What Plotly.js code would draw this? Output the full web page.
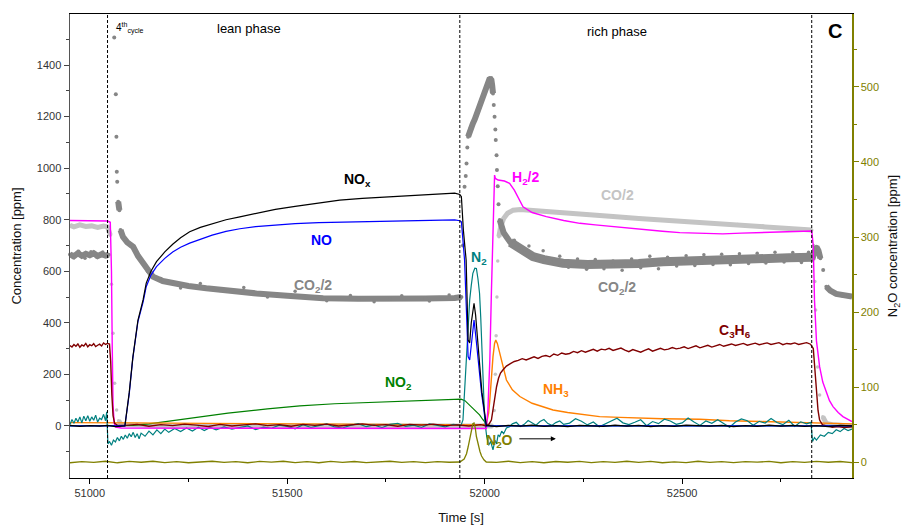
<!DOCTYPE html>
<html>
<head>
<meta charset="utf-8">
<script src="https://cdn.plot.ly/plotly-3.0.1.min.js"></script>
<style>html,body{margin:0;padding:0;background:#fff;}#chart{width:906px;height:529px;}</style>
</head>
<body>
<div id="chart"></div>
<script>
// ---------------- DATA ----------------
const phaseBoundaries = [51045, 51937, 52828];
const xTicks = [51000, 51500, 52000, 52500];
const yTicks = [0, 200, 400, 600, 800, 1000, 1200, 1400];
const y2Ticks = [0, 100, 200, 300, 400, 500];

// NOx (black)
const noxT = [50950,50975,51000,51025,51045,51065,51089,51100,51109,51122,51135,51143,51155,51169,51190,51210,51230,51253,51280,51310,51345,51380,51420,51470,51520,51580,51633,51690,51750,51810,51870,51924,51937,51941,51946,51953,51958,51962,51966,51970,51973,51977,51982,51987,51993,52000,52004,52030,52060,52090,52120,52150,52180,52210,52240,52270,52300,52330,52360,52390,52420,52450,52480,52510,52540,52570,52600,52630,52660,52690,52720,52750,52780,52810,52840,52870,52900,52930];
const noxV = [2,-2,1,-1,2,-3,0,130,265,410,489,554,600,637,675,705,730,753,770,785,800,811,825,840,852,865,876,883,888,893,898,903,898,889,760,644,333,322,400,455,476,430,330,230,130,50,2,-3,2,-1,3,-2,1,-3,2,0,-2,3,-1,2,-3,1,-2,3,0,-1,2,-3,1,-2,3,-1,2,-2,1,-3,2,0];

// NO (blue)
const noT = [50950,51000,51045,51089,51100,51109,51122,51135,51143,51155,51169,51190,51210,51230,51253,51280,51310,51345,51380,51420,51470,51520,51580,51633,51690,51750,51810,51870,51924,51937,51941,51949,51958,51962,51967,51973,51978,51983,51992,52000,52004,52100,52300,52500,52700,52930];
const noV = [0,0,0,0,125,262,405,480,540,585,618,650,675,693,709,725,740,755,765,773,780,785,789,791,793,795,797,798,799,796,792,644,269,256,330,411,340,256,127,40,0,0,0,0,0,0];

// N2 (teal)
const n2T = [50950,50955,50960,50965,50970,50975,50980,50985,50990,50995,51000,51005,51010,51015,51020,51025,51030,51035,51040,51043,
51046,51050,51055,51060,51065,51070,51075,51080,51085,51090,51095,51100,51105,51110,51115,51120,51125,51130,
51140,51150,51160,51170,51180,51190,51200,51215,51230,51245,51260,51275,51290,51305,51320,
51340,51360,51380,51400,51420,51440,51460,51480,51500,51520,51540,51560,51580,51600,51620,51640,51660,51680,51700,51720,51740,51760,51780,51800,51820,51840,51860,51880,51900,51920,51940,
51945,51950,51954,51958,51962,51966,51970,51975,51979,51983,51987,51990,51994,51997,52000,52005,52010,52015,52021,52026,52030,52034,52038,52043,52048,52055,52063,
52070,52080,52090,52100,52110,52120,52130,52140,52150,52160,52170,52180,52190,52200,
52215,52230,52245,52260,52275,52290,52305,52320,52335,52350,52365,52380,52395,52410,52425,52440,52455,52470,52485,52500,52515,52530,52545,52560,52575,52590,52605,52620,52635,52650,52665,52680,52695,52710,52725,52740,52755,52770,52785,52800,52815,52826,
52830,52835,52840,52850,52860,52870,52880,52890,52900,52910,52920,52930];
const n2V = [5,25,10,30,15,35,12,38,20,40,18,35,22,42,15,30,25,45,20,55,
-70,-60,-75,-55,-62,-45,-58,-40,-52,-35,-48,-30,-42,-25,-45,-30,-50,-28,
-40,-20,-35,-15,-30,-12,-25,-10,-22,-8,-20,-5,-18,-6,-15,
-4,-12,-7,0,-14,-5,-9,3,-2,-11,5,-6,1,8,-4,-8,2,9,-3,4,-7,6,10,-2,3,-6,8,1,-4,6,2,
23,160,307,400,489,545,592,612,611,570,514,420,256,130,23,-40,-75,-60,-93,-55,-70,-35,-41,-20,-30,-8,-3,
8,14,-2,6,21,12,3,17,25,9,2,13,19,6,
11,28,18,4,15,-3,9,20,30,12,5,14,24,1,17,9,26,19,6,12,31,15,2,19,10,24,8,-5,15,27,20,3,18,11,29,13,5,22,-2,16,8,14,
-60,-45,-55,-35,-40,-25,-30,-15,-22,-10,-18,-12];

// N2O (olive, right axis)
const n2oT = [50950,50980,51010,51040,51070,51100,51130,51160,51190,51220,51250,51280,51310,51340,51370,51400,51430,51460,51490,51520,51550,51580,51610,51640,51670,51700,51730,51760,51790,51820,51850,51880,51910,51937,
51948,51954,51958,51962,51966,51970,51973,51976,51979,51984,51988,51992,51998,52004,
52030,52060,52090,52120,52150,52180,52210,52240,52270,52300,52330,52360,52390,52420,52450,52480,52510,52540,52570,52600,52630,52660,52690,52720,52750,52780,52810,52840,52870,52900,52930];
const n2oV = [-1,0.5,-0.5,1,-1,0.8,-0.3,1,-0.8,0.5,-1,0.3,1,-0.5,0.6,-1,0.8,-0.2,1,-0.7,0.4,-1,0.9,-0.4,0.7,-0.9,0.3,1,-0.6,0.5,-0.8,0.6,-0.3,0,
4,11,20,29,42,51,52,46,34,22,14,8,3,0,
-0.5,1,-0.8,0.4,-1,0.7,-0.3,0.9,-0.9,0.5,-0.6,1,-0.4,0.8,-1,0.3,-0.7,1,-0.5,0.6,-0.9,0.4,-0.2,0.8,-1,0.5,-0.6,0.9,-0.3,0.7,-0.8];

// NO2 (green)
const no2T = [50950,51045,51110,51150,51200,51278,51350,51450,51532,51620,51734,51830,51924,51940,51950,51962,51975,51987,51995,52004,52015,52300,52600,52930];
const no2V = [0,0,2,8,18,36,50,66,78,86,93,100,104,104,98,81,62,43,25,8,0,0,0,0];

// NH3 (orange)
const nh3T = [50950,51045,51100,51300,51500,51700,51937,51990,52004,52010,52013,52017,52021,52025,52028,52032,52038,52046,52055,52070,52089,52120,52173,52210,52257,52291,52342,52400,52450,52544,52620,52700,52797,52828,52860,52930];
const nh3V = [13,13,12,10,8,6,5,4,8,50,101,190,269,320,333,320,282,225,178,140,114,88,62,52,43,36,33,30,28,26,20,17,13,12,10,8];

// H2/2 (magenta)
const h2T = [50950,51000,51045,51052,51055,51057,51059,51062,51066,51080,51300,51600,51900,52004,52008,52013,52017,52021,52024,52025,52027,52034,52050,52063,52075,52089,52097,52120,52156,52200,52241,52280,52325,52370,52409,52450,52494,52550,52603,52650,52705,52760,52828,52832,52835,52840,52848,52856,52865,52873,52882,52895,52907,52920,52930];
const h2V = [797,796,795,790,600,300,80,10,-5,-8,-9,-10,-10,-10,60,256,520,773,940,973,960,954,950,941,915,876,850,828,812,797,786,780,773,766,760,755,750,747,745,748,751,754,756,700,489,330,230,170,127,98,75,52,36,24,17];

// CO/2 (light gray)
const coT = [50950,50960,50975,50990,51005,51020,51035,51045,51052,51055,51059,51063,51068,51073,51080,51200,51500,51800,52004,52020,52024,52027,52029,52031,52033,52036,52040,52048,52058,52072,52090,52114,52150,52198,52260,52325,52390,52451,52510,52578,52640,52705,52770,52828,52833,52836,52838,52843,52848,52856,52865,52880,52930];
const coV = [778,772,780,774,776,770,775,772,740,550,360,166,62,20,5,0,0,0,0,0,60,200,350,500,640,734,770,805,825,837,840,837,832,825,818,812,805,799,792,786,781,776,768,760,700,560,450,229,120,36,10,5,0];

// CO2/2 (dark gray)
const co2T = [50950,50960,50970,50980,50990,51000,51010,51020,51030,51040,51048,
51057,51062,51066,51067.5,51068.5,51069.5,51072,51075,51078,51084,51095,51110,51122,51135,51147,51160,51185,51211,51250,51295,51350,51422,51500,51591,51680,51760,51850,51924,51937,
51941,51945,51949,51952,51954,51956,51958,51961,51964,51967,51970,51975,51980,51987,51993,51998,52004,52008,52011,52013,52015,52017,52019,52021,52023,52025,52027,52028,52030,52031,52033,52035,52038,52042,52048,52055,52065,52080,52100,52122,52150,52198,52260,52325,52390,52451,52510,52578,52640,52705,52770,52831,
52836,52840,52845,52850,52857,52865,52875,52890,52905,52920,52930];
const co2V = [665,658,670,660,668,662,670,659,666,661,664,
1640,1507,1287,1122,986,947,870,837,760,734,712,695,660,631,600,579,562,553,543,534,524,514,505,495,493,492,494,496,495,
500,700,928,970,1018,1080,1122,1140,1155,1165,1173,1190,1212,1238,1265,1290,1316,1333,1345,1350,1346,1342,1320,1290,1245,1199,1150,1109,1050,993,930,860,799,770,750,734,712,695,675,657,645,631,626,624,630,637,641,644,647,650,652,654,
680,695,680,650,605,540,525,512,506,503,502];
// scattered CO2/2 dots around the band
const co2ScatT = [50958,50972,50988,51003,51017,51033,51180,51230,51280,51330,51390,51450,51520,51600,51660,51720,51790,51860,51910,
52075,52095,52112,52130,52148,52170,52190,52212,52235,52258,52280,52302,52325,52348,52372,52395,52418,52440,52463,52486,52510,52532,52555,52578,52600,52622,52645,52668,52690,52712,52735,52758,52780,52802,52820];
const co2ScatV = [652,678,650,676,655,675,572,535,553,525,537,500,522,486,506,482,505,485,508,
720,680,698,646,680,634,658,616,648,608,646,610,640,604,648,614,658,610,654,620,660,622,664,626,666,625,668,630,670,632,674,636,673,634,674];

// C3H6 (maroon)
const c3h6T = [50950,50955,50960,50965,50970,50975,50980,50985,50990,50995,51000,51005,51010,51015,51020,51025,51030,51035,51040,51045,
51050,51053,51056,51059,51063,51070,
51090,51120,51150,51180,51210,51240,51270,51300,51330,51360,51390,51420,51450,51480,51510,51540,51570,51600,51630,51660,51690,51720,51750,51780,51810,51840,51870,51900,51930,51960,51990,
52004,52010,52017,52022,52026,52030,52035,52040,52046,52055,52065,52075,
52085,52095,52105,52115,52125,52135,52145,52155,52165,52175,52185,52195,52205,52215,52225,52235,52245,52255,52265,52275,
52285,52295,52305,52315,52325,52335,52345,52355,52365,52375,52385,52395,52405,52415,52425,52435,52445,52455,52465,52475,
52485,52495,52505,52515,52525,52535,52545,52555,52565,52575,52585,52595,52605,52615,52625,52635,52645,52655,52665,52675,
52685,52695,52705,52715,52725,52735,52745,52755,52765,52775,52785,52795,52805,52815,52825,
52832,52836,52840,52844,52848,52855,52865,52880,52895,52910,52930];
const c3h6V = [312,306,316,309,318,305,314,310,320,307,315,311,319,308,313,317,310,322,316,320,
318,250,120,40,10,3,
2,6,-1,5,1,7,3,-2,6,0,4,8,1,5,-1,6,2,7,0,4,8,2,5,-1,6,3,7,1,4,0,5,
0,5,23,70,120,152,185,205,217,232,242,250,
254,261,256,263,268,262,270,273,268,279,274,283,278,281,289,284,292,286,291,297,
290,298,295,301,293,297,302,294,288,296,291,286,293,299,290,296,301,295,298,304,
299,302,307,300,306,311,303,309,313,306,312,316,309,314,318,312,317,320,313,316,
321,315,318,322,316,319,323,315,320,318,322,316,319,323,317,
300,220,127,60,23,5,0,-5,-2,-6,-3];

// ---------------- helpers ----------------
function withGaps(t, v, thr) {
  const X = [], Y = [];
  for (let i = 0; i < t.length; i++) {
    if (i > 0 && Math.abs(v[i] - v[i - 1]) > thr) { X.push(t[i]); Y.push(null); }
    X.push(t[i]); Y.push(v[i]);
  }
  return {x: X, y: Y};
}
function inWindow(t, v, a, b) {
  const X = [], Y = [];
  for (let i = 0; i < t.length; i++) if (t[i] >= a && t[i] <= b) { X.push(t[i]); Y.push(v[i]); }
  return {x: X, y: Y};
}
const FONT = 'Liberation Sans, Arial, Helvetica, sans-serif';
function line(x, y, color, width, yaxis) {
  return {type: 'scatter', mode: 'lines', x: x, y: y, yaxis: yaxis || 'y',
          line: {color: color, width: width}, connectgaps: false, hoverinfo: 'skip'};
}
function dots(x, y, color, size, clip) {
  return {type: 'scatter', mode: 'markers', x: x, y: y,
          marker: {color: color, size: size, line: {width: 0}}, cliponaxis: clip, hoverinfo: 'skip'};
}

const coG = withGaps(coT, coV, 38);
const co2G = withGaps(co2T, co2V, 38);
const co2Rich = inWindow(co2T, co2V, 52060, phaseBoundaries[2] + 3);
const GRAY = '#868686', LGRAY = '#C4C4C4';

const traces = [
  line(coG.x, coG.y, LGRAY, 5),
  dots(coT, coV, LGRAY, 3.5, true),
  line(co2G.x, co2G.y, GRAY, 6),
  line(co2Rich.x, co2Rich.y, GRAY, 9),
  dots(co2T, co2V, GRAY, 4, false),
  dots(co2ScatT, co2ScatV, GRAY, 3.5, true),
  line(n2oT, n2oV, '#808000', 1.3, 'y2'),
  line(no2T, no2V, '#008000', 1.2),
  line(nh3T, nh3V, '#FF8000', 1.4),
  line(n2T, n2V, '#008080', 1.2),
  line(h2T, h2V, '#FF00FF', 1.4),
  line(c3h6T, c3h6V, '#800000', 1.4),
  line(noT, noV, '#0000FF', 1.2),
  line(noxT, noxV, '#000000', 1.2)
];

function lab(x, y, text, color, size) {
  return {x: x, y: y, xref: 'x', yref: 'y', text: text, showarrow: false,
          font: {family: FONT, size: size || 14, color: color},
          xanchor: 'center', yanchor: 'middle'};
}
function ptxt(x, y, text, size, anchor) {
  return {x: x, y: y, xref: 'paper', yref: 'paper', xanchor: anchor || 'center', yanchor: 'middle',
          showarrow: false, text: text, font: {family: FONT, size: size, color: '#000'}};
}
const annotations = [
  lab(51678, 954, '<b>NO<sub>x</sub></b>', '#000000'),
  lab(51587, 721, '<b>NO</b>', '#0000FF'),
  lab(51565, 543, '<b>CO<sub>2</sub>/2</b>', GRAY),
  lab(51985, 651, '<b>N<sub>2</sub></b>', '#008080'),
  lab(52104, 962, '<b>H<sub>2</sub>/2</b>', '#FF00FF'),
  lab(52337, 896, '<b>CO/2</b>', LGRAY),
  lab(52334, 535, '<b>CO<sub>2</sub>/2</b>', GRAY),
  lab(52635, 368, '<b>C<sub>3</sub>H<sub>6</sub></b>', '#800000'),
  lab(51782, 167, '<b>NO<sub>2</sub></b>', '#008000'),
  lab(52180, 140, '<b>NH<sub>3</sub></b>', '#FF8000'),
  lab(52038, -58, '<b>N<sub>2</sub>O</b>', '#808000'),
  {x: 52180, y: -50, ax: 52084, ay: -50, xref: 'x', yref: 'y', axref: 'x', ayref: 'y',
   text: '', showarrow: true, arrowhead: 2, arrowsize: 1, arrowwidth: 1, arrowcolor: '#000'},
  ptxt(0.0563, 0.970, '4<sup>th</sup><sub>cycle</sub>', 10, 'left'),
  ptxt(0.229, 0.968, 'lean phase', 13),
  ptxt(0.6995, 0.963, 'rich phase', 13),
  ptxt(0.978, 0.963, '<b>C</b>', 20)
];

const shapes = phaseBoundaries.map(t => ({type: 'line', xref: 'x', yref: 'paper', x0: t, x1: t, y0: 0, y1: 1,
  line: {color: '#000', width: 1, dash: '3px,2px'}}));

const tickFont = {family: FONT, size: 11, color: '#333'};
const layout = {
  width: 906, height: 529,
  margin: {l: 70, r: 54, t: 14, b: 51, pad: 0},
  paper_bgcolor: '#fff', plot_bgcolor: '#fff',
  showlegend: false, hovermode: false,
  font: {family: FONT},
  xaxis: {
    range: [50950, 52930], tickmode: 'array', tickvals: xTicks, ticktext: xTicks.map(String),
    ticks: 'outside', ticklen: 5, tickcolor: '#000', tickwidth: 1,
    minor: {tickmode: 'array', tickvals: [51250, 51750, 52250, 52750], ticks: 'outside', ticklen: 3, tickcolor: '#000'},
    showline: true, linecolor: '#000', linewidth: 1, mirror: true,
    showgrid: false, zeroline: false, tickfont: tickFont,
    title: {text: 'Time [s]', font: {family: FONT, size: 13, color: '#111'}, standoff: 14}
  },
  yaxis: {
    range: [-202, 1598], tickmode: 'array', tickvals: yTicks, ticktext: yTicks.map(String),
    ticks: 'outside', ticklen: 5, tickcolor: '#444', tickwidth: 1,
    minor: {tickmode: 'array', tickvals: [-100,100,300,500,700,900,1100,1300,1500], ticks: 'outside', ticklen: 3, tickcolor: '#444'},
    showline: true, linecolor: '#555', linewidth: 1.5,
    showgrid: false, zeroline: false, tickfont: tickFont,
    title: {text: 'Concentration [ppm]', font: {family: FONT, size: 13, color: '#111'}, standoff: 12}
  },
  yaxis2: {
    overlaying: 'y', side: 'right', anchor: 'x',
    range: [-21.3, 597.3], tickmode: 'array', tickvals: y2Ticks, ticktext: y2Ticks.map(String),
    ticks: 'outside', ticklen: 5, tickcolor: '#808000', tickwidth: 1,
    minor: {tickmode: 'array', tickvals: [50,150,250,350,450,550], ticks: 'outside', ticklen: 3, tickcolor: '#808000'},
    showline: true, linecolor: '#808000', linewidth: 1.5,
    showgrid: false, zeroline: false, tickfont: {family: FONT, size: 11, color: '#808000'},
    title: {text: 'N<sub>2</sub>O concentration [ppm]', font: {family: FONT, size: 13, color: '#111'}, standoff: 10}
  },
  annotations: annotations,
  shapes: shapes
};

Plotly.newPlot('chart', traces, layout, {displayModeBar: false, staticPlot: true});
</script>
</body>
</html>
